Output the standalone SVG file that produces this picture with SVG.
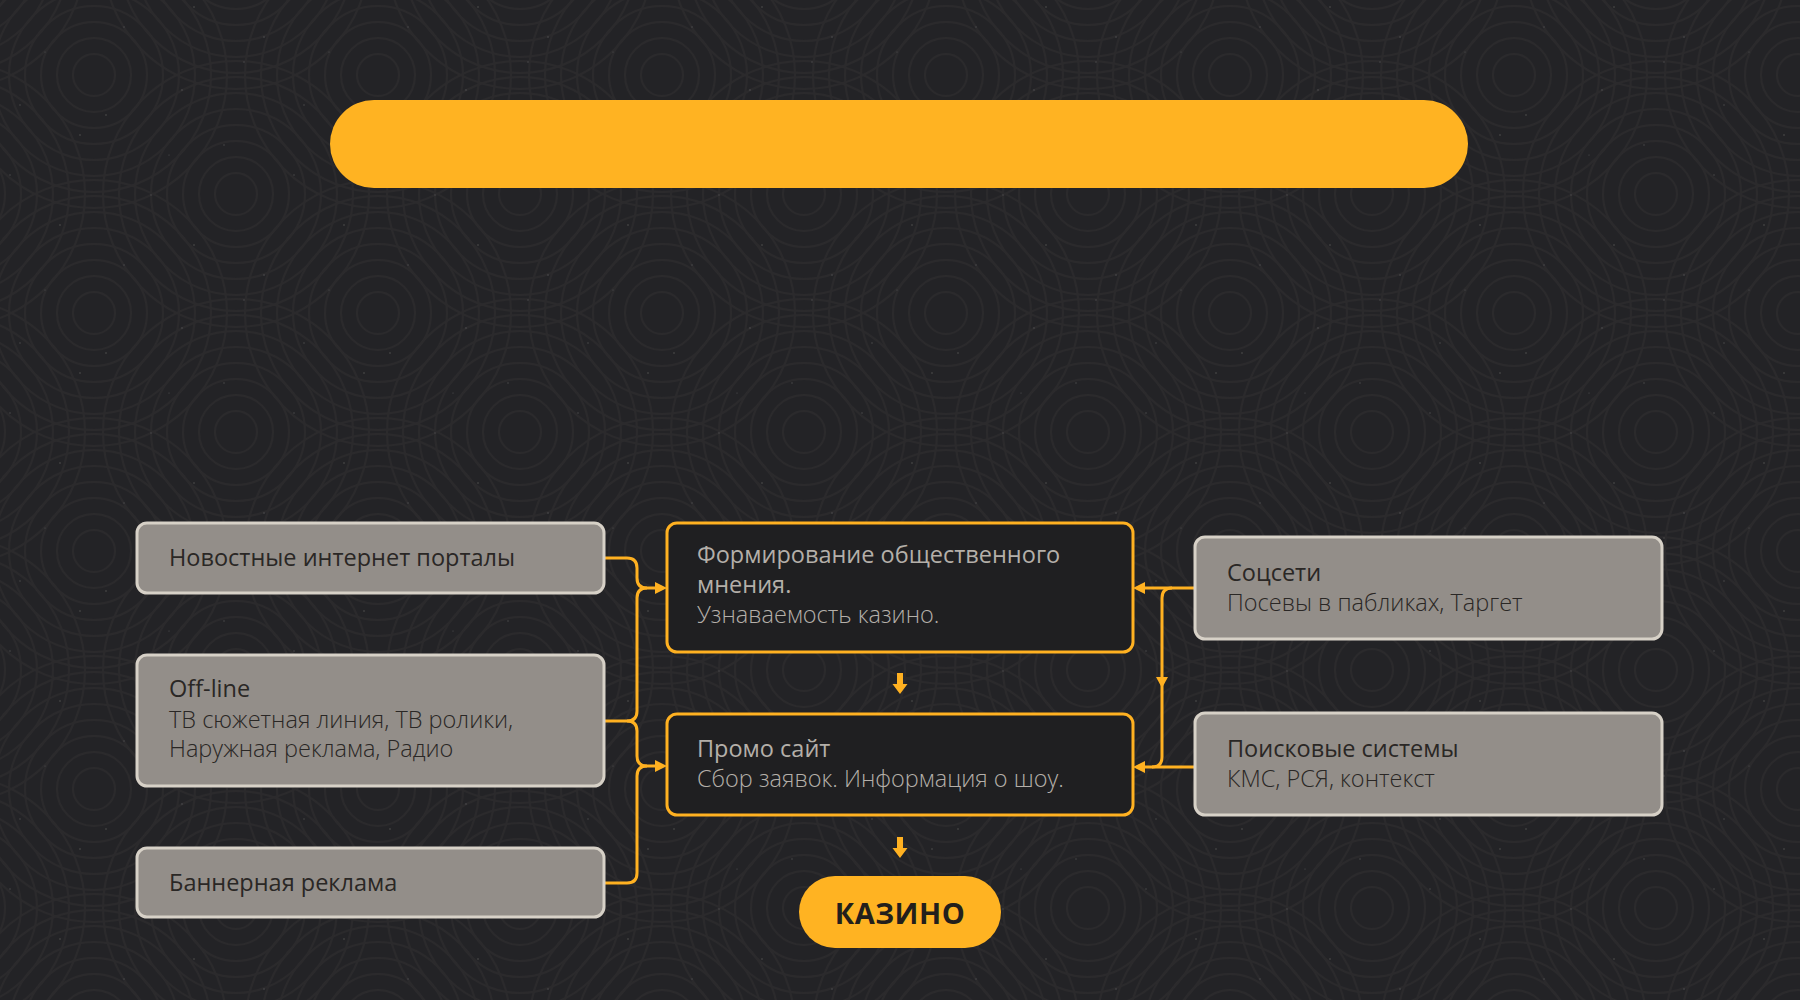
<svg xmlns="http://www.w3.org/2000/svg" width="1800" height="1000" viewBox="0 0 1800 1000">
<defs>
<g id="rings" fill="none" stroke="#2b2a2c" stroke-width="2">
<circle r="21"/><circle r="37"/><circle r="53"/><circle r="69"/><circle r="85"/><circle r="101"/><circle r="117"/><circle r="133"/>
</g>
<pattern id="bgp" patternUnits="userSpaceOnUse" width="284" height="238" patternTransform="translate(94,75)">
<use href="#rings" x="0" y="0"/><use href="#rings" x="284" y="0"/><use href="#rings" x="0" y="238"/><use href="#rings" x="284" y="238"/>
<use href="#rings" x="142" y="119"/><use href="#rings" x="-142" y="119"/><use href="#rings" x="426" y="119"/><use href="#rings" x="142" y="-119"/><use href="#rings" x="142" y="357"/>
<g fill="#4e4e50">
<circle cx="12" cy="40" r="0.8"/><circle cx="57" cy="120" r="0.7"/><circle cx="88" cy="15" r="0.8"/><circle cx="130" cy="70" r="0.7"/><circle cx="170" cy="200" r="0.8"/><circle cx="210" cy="30" r="0.7"/><circle cx="250" cy="150" r="0.8"/><circle cx="30" cy="190" r="0.7"/><circle cx="100" cy="170" r="0.8"/><circle cx="200" cy="100" r="0.7"/><circle cx="270" cy="60" r="0.8"/><circle cx="150" cy="225" r="0.7"/><circle cx="75" cy="80" r="0.6"/><circle cx="235" cy="215" r="0.6"/>
</g>
</pattern>
</defs>
<style>
.gbox{fill:#938e89;stroke:#d7d1c7;stroke-width:3}
.cbox{fill:#1f1f21;stroke:#ffb121;stroke-width:3}
.t{font-family:"Open Sans","Noto Sans",sans-serif;font-size:23.5px}
.dk{fill:#2a2725}
.lt{fill:#b4afa9}
.b{font-weight:500}
.l{font-weight:300}
.con{fill:none;stroke:#ffb121;stroke-width:3}
.ah{fill:#ffb121}
</style>
<rect width="1800" height="1000" fill="#232326"/>
<rect width="1800" height="1000" fill="url(#bgp)"/>

<g id="header"><rect x="330" y="100" width="1138" height="88" rx="44" fill="#ffb322"/></g>

<g id="connectors">
<path class="con" d="M604,558 H627 Q637,558 637,568 V578 Q637,588 647,588 H656"/>
<path class="con" d="M604,721 H627 Q637,721 637,711 V598 Q637,588 647,588"/>
<path class="con" d="M627,721 Q637,721 637,731 V756 Q637,766 647,766 H656"/>
<path class="con" d="M604,883 H627 Q637,883 637,873 V776 Q637,766 647,766"/>
<polygon class="ah" points="655,582 667,588 655,594"/>
<polygon class="ah" points="655,760 667,766 655,772"/>
<path class="con" d="M1195,588 H1143"/>
<path class="con" d="M1172,588 Q1162,588 1162,598 V757 Q1162,767 1152,767"/>
<path class="con" d="M1195,767 H1143"/>
<polygon class="ah" points="1145,582 1133,588 1145,594"/>
<polygon class="ah" points="1145,761 1133,767 1145,773"/>
<polygon class="ah" points="1156,677 1168,677 1162,688"/>
<path class="ah" d="M897,673 H903 V684 H907.5 L900,694 L892.5,684 H897 Z"/>
<path class="ah" d="M897,837 H903 V848 H907.5 L900,858 L892.5,848 H897 Z"/>
</g>

<g id="n-news"><rect class="gbox" x="137" y="523" width="467" height="70" rx="10"/>
<text class="t dk" x="169" y="566">Новостные интернет порталы</text></g>

<g id="n-offline"><rect class="gbox" x="137" y="655" width="467" height="131" rx="10"/>
<text class="t dk b" x="169" y="697">Off-line</text>
<text class="t dk l" x="169" y="728">ТВ сюжетная линия, ТВ ролики,</text>
<text class="t dk l" x="169" y="757">Наружная реклама, Радио</text></g>

<g id="n-banner"><rect class="gbox" x="137" y="848" width="467" height="69" rx="10"/>
<text class="t dk" x="169" y="891">Баннерная реклама</text></g>

<g id="n-opinion"><rect class="cbox" x="667" y="523" width="466" height="129" rx="10"/>
<text class="t lt b" x="697" y="563">Формирование общественного</text>
<text class="t lt b" x="697" y="593">мнения.</text>
<text class="t lt l" x="697" y="623">Узнаваемость казино.</text></g>

<g id="n-promo"><rect class="cbox" x="667" y="714" width="466" height="101" rx="10"/>
<text class="t lt b" x="697" y="757">Промо сайт</text>
<text class="t lt l" x="697" y="787">Сбор заявок. Информация о шоу.</text></g>

<g id="n-social"><rect class="gbox" x="1195" y="537" width="467" height="102" rx="10"/>
<text class="t dk b" x="1227" y="581">Соцсети</text>
<text class="t dk l" x="1227" y="611">Посевы в пабликах, Таргет</text></g>

<g id="n-search"><rect class="gbox" x="1195" y="713" width="467" height="102" rx="10"/>
<text class="t dk b" x="1227" y="757">Поисковые системы</text>
<text class="t dk l" x="1227" y="787">КМС, РСЯ, контекст</text></g>

<g id="n-casino"><rect x="799" y="876" width="202" height="72" rx="36" fill="#ffb322"/>
<text x="900" y="924" text-anchor="middle" font-family="'Open Sans','Noto Sans',sans-serif" font-size="29" font-weight="700" fill="#231f1c" letter-spacing="0.5">КАЗИНО</text></g>
</svg>
